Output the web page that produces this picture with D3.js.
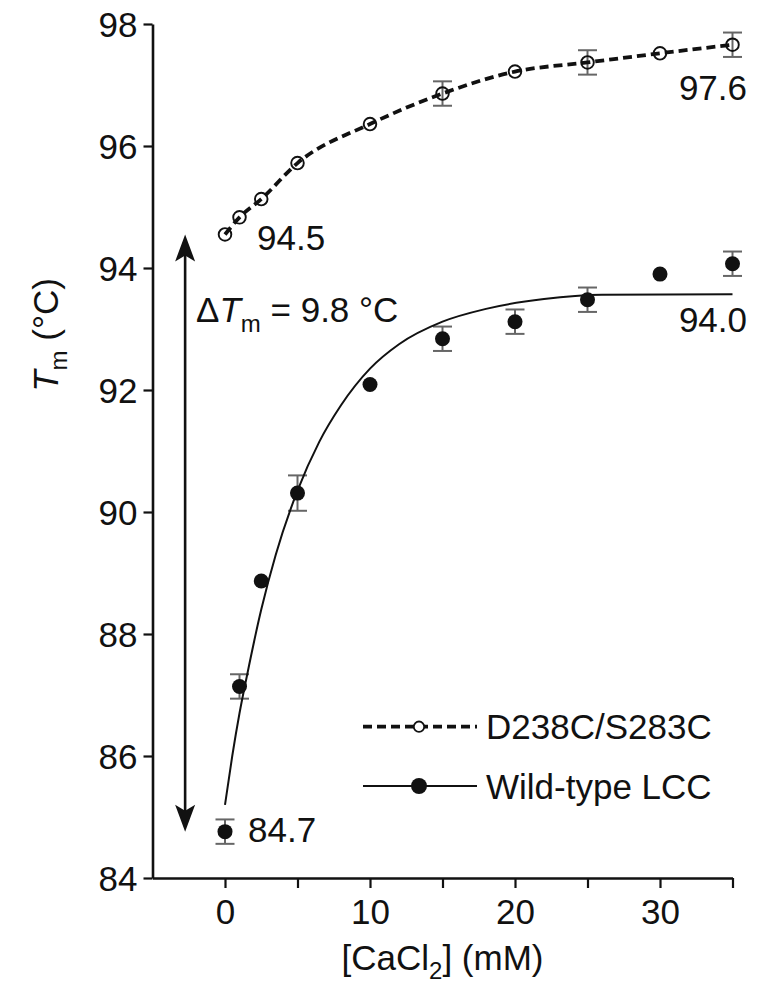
<!DOCTYPE html>
<html>
<head>
<meta charset="utf-8">
<script src="https://cdn.jsdelivr.net/npm/d3@7/dist/d3.min.js"></script>
<style>
  html, body { margin: 0; padding: 0; background: #fff; }
  svg { display: block; }
  text { font-family: "Liberation Sans", Arial, Helvetica, sans-serif; fill: #111; }
</style>
</head>
<body>
<svg id="chart" width="760" height="990"></svg>
<script>
// ---- data ----
const concMM   = [0, 1, 2.5, 5, 10, 15, 20, 25, 30, 35];
const mutantTm = [94.55, 94.83, 95.13, 95.72, 96.36, 96.86, 97.22, 97.37, 97.52, 97.66];
const mutantErr= [0, 0, 0, 0, 0, 0.2, 0, 0.2, 0, 0.2];
const wildTm   = [84.76, 87.14, 88.87, 90.31, 92.09, 92.84, 93.12, 93.48, 93.90, 94.07];
const wildErr  = [0.2, 0.2, 0, 0.29, 0, 0.2, 0.2, 0.2, 0, 0.2];
// fitted curve for wild-type
const wildFitX = [0, 0.5, 1, 1.5, 2.5, 3.5, 5, 6.5, 8, 10, 12, 15, 18, 22, 26, 35];
const wildFitY = [85.2, 86.0, 86.7, 87.3, 88.4, 89.3, 90.35, 91.15, 91.75, 92.35, 92.75, 93.12, 93.33, 93.49, 93.56, 93.57];
const yTicks = [84, 86, 88, 90, 92, 94, 96, 98];
const xTicks = [0, 5, 10, 15, 20, 25, 30, 35];
const xTickLabels = ["0", "", "10", "", "20", "", "30", ""];
const seriesNames = ["D238C/S283C", "Wild-type LCC"];
const annot = { mutStart: "94.5", mutEnd: "97.6", wildStart: "84.7", wildEnd: "94.0", delta: "9.8 °C" };

// ---- layout ----
const svg = d3.select("#chart");
const x = d3.scaleLinear().domain([-5, 35]).range([152.5, 732.5]);
const y = d3.scaleLinear().domain([84, 98]).range([878, 24]);
const FS = 35;

// axes
const yAxis = d3.axisLeft(y).tickValues(yTicks).tickSize(9).tickSizeOuter(0).tickPadding(6).tickFormat(d3.format("d"));
const gy = svg.append("g").attr("transform", `translate(${x(-5)},0)`).call(yAxis);
const xAxis = d3.axisBottom(x).tickValues(xTicks).tickSize(10).tickSizeOuter(0).tickPadding(10)
  .tickFormat((d, i) => xTickLabels[i]);
const gx = svg.append("g").attr("transform", `translate(0,${y(84)})`).call(xAxis);
[gx, gy].forEach(g => {
  g.select(".domain").attr("stroke", "#111").attr("stroke-width", 2.6);
  g.selectAll(".tick line").attr("stroke", "#111").attr("stroke-width", 2.2);
  g.selectAll(".tick text").attr("font-size", FS).attr("fill", "#111")
    .style("font-family", '"Liberation Sans", Arial, sans-serif');
});
gy.selectAll(".tick text").attr("dy", "0.36em");
gx.selectAll(".tick text").attr("dy", "0.74em");

// axis titles
const xt = svg.append("text").attr("x", (x(-5) + x(35)) / 2).attr("y", 970)
  .attr("text-anchor", "middle").attr("font-size", FS);
xt.append("tspan").text("[CaCl");
xt.append("tspan").attr("font-size", 24).attr("dy", 9).text("2");
xt.append("tspan").attr("dy", -9).text("] (mM)");

const yt = svg.append("text").attr("transform", "translate(58,335) rotate(-90)")
  .attr("text-anchor", "middle").attr("font-size", FS);
yt.append("tspan").attr("font-style", "italic").text("T");
yt.append("tspan").attr("font-size", 24).attr("dy", 9).text("m");
yt.append("tspan").attr("dy", -9).text(" (°C)");

// ---- series ----
const mutPts = concMM.map((c, i) => ({ x: c, y: mutantTm[i], e: mutantErr[i] }));
const wildPts = concMM.map((c, i) => ({ x: c, y: wildTm[i], e: wildErr[i] }));
const fitPts = wildFitX.map((c, i) => ({ x: c, y: wildFitY[i] }));

const line = d3.line().x(d => x(d.x)).y(d => y(d.y)).curve(d3.curveMonotoneX);

// error bars
function errBars(pts) {
  const g = svg.append("g").attr("stroke", "#666").attr("stroke-width", 2);
  pts.filter(d => d.e > 0).forEach(d => {
    const cx = x(d.x), y1 = y(d.y - d.e), y2 = y(d.y + d.e);
    g.append("line").attr("x1", cx).attr("x2", cx).attr("y1", y1).attr("y2", y2);
    g.append("line").attr("x1", cx - 9.5).attr("x2", cx + 9.5).attr("y1", y1).attr("y2", y1);
    g.append("line").attr("x1", cx - 9.5).attr("x2", cx + 9.5).attr("y1", y2).attr("y2", y2);
  });
}
errBars(mutPts);
errBars(wildPts);

svg.append("path").datum(mutPts).attr("d", line).attr("fill", "none")
  .attr("stroke", "#111").attr("stroke-width", 3.8).attr("stroke-dasharray", "9,5");
svg.append("g").selectAll("circle").data(mutPts).join("circle")
  .attr("cx", d => x(d.x)).attr("cy", d => y(d.y)).attr("r", 6.3)
  .attr("fill", "none").attr("stroke", "#111").attr("stroke-width", 1.9);

svg.append("path").datum(fitPts).attr("d", line).attr("fill", "none")
  .attr("stroke", "#111").attr("stroke-width", 2);
svg.append("g").selectAll("circle").data(wildPts).join("circle")
  .attr("cx", d => x(d.x)).attr("cy", d => y(d.y)).attr("r", 7.5).attr("fill", "#111");

// ---- delta arrow ----
const ax = x(-2.75);
const yTop = y(mutantTm[0]), yBot = y(wildTm[0]);
svg.append("line").attr("x1", ax).attr("x2", ax).attr("y1", yTop + 20).attr("y2", yBot - 20)
  .attr("stroke", "#111").attr("stroke-width", 2.6);
svg.append("path").attr("d", `M${ax},${yTop} L${ax - 10},${yTop + 27} L${ax},${yTop + 21} L${ax + 10},${yTop + 27} Z`).attr("fill", "#111");
svg.append("path").attr("d", `M${ax},${yBot} L${ax - 10},${yBot - 27} L${ax},${yBot - 21} L${ax + 10},${yBot - 27} Z`).attr("fill", "#111");

const dt = svg.append("text").attr("x", 196).attr("y", 322).attr("font-size", FS);
dt.append("tspan").text("Δ");
dt.append("tspan").attr("font-style", "italic").text("T");
dt.append("tspan").attr("font-size", 24).attr("dy", 10).text("m");
dt.append("tspan").attr("dy", -10).text(" = " + annot.delta);

// ---- value annotations ----
svg.append("text").attr("x", x(0) + 32).attr("y", y(mutantTm[0]) + 16).attr("font-size", FS).text(annot.mutStart);
svg.append("text").attr("x", 747).attr("y", 100).attr("text-anchor", "end").attr("font-size", FS).text(annot.mutEnd);
svg.append("text").attr("x", 747).attr("y", 332).attr("text-anchor", "end").attr("font-size", FS).text(annot.wildEnd);
svg.append("text").attr("x", x(0) + 23).attr("y", y(wildTm[0]) + 10).attr("font-size", FS).text(annot.wildStart);

// ---- legend ----
const leg = svg.append("g");
const legY = [726.7, 786];
leg.append("line").attr("x1", 363).attr("x2", 477).attr("y1", legY[0]).attr("y2", legY[0])
  .attr("stroke", "#111").attr("stroke-width", 3.8).attr("stroke-dasharray", "9,5");
leg.append("circle").attr("cx", 419).attr("cy", legY[0]).attr("r", 5.2).attr("fill", "#fff")
  .attr("stroke", "#111").attr("stroke-width", 1.8);
leg.append("line").attr("x1", 363).attr("x2", 477).attr("y1", legY[1]).attr("y2", legY[1])
  .attr("stroke", "#111").attr("stroke-width", 2);
leg.append("circle").attr("cx", 419).attr("cy", legY[1]).attr("r", 8).attr("fill", "#111");
seriesNames.forEach((n, i) => {
  leg.append("text").attr("x", 486).attr("y", legY[i]).attr("dy", "0.36em").attr("font-size", FS).text(n);
});
</script>
</body>
</html>
